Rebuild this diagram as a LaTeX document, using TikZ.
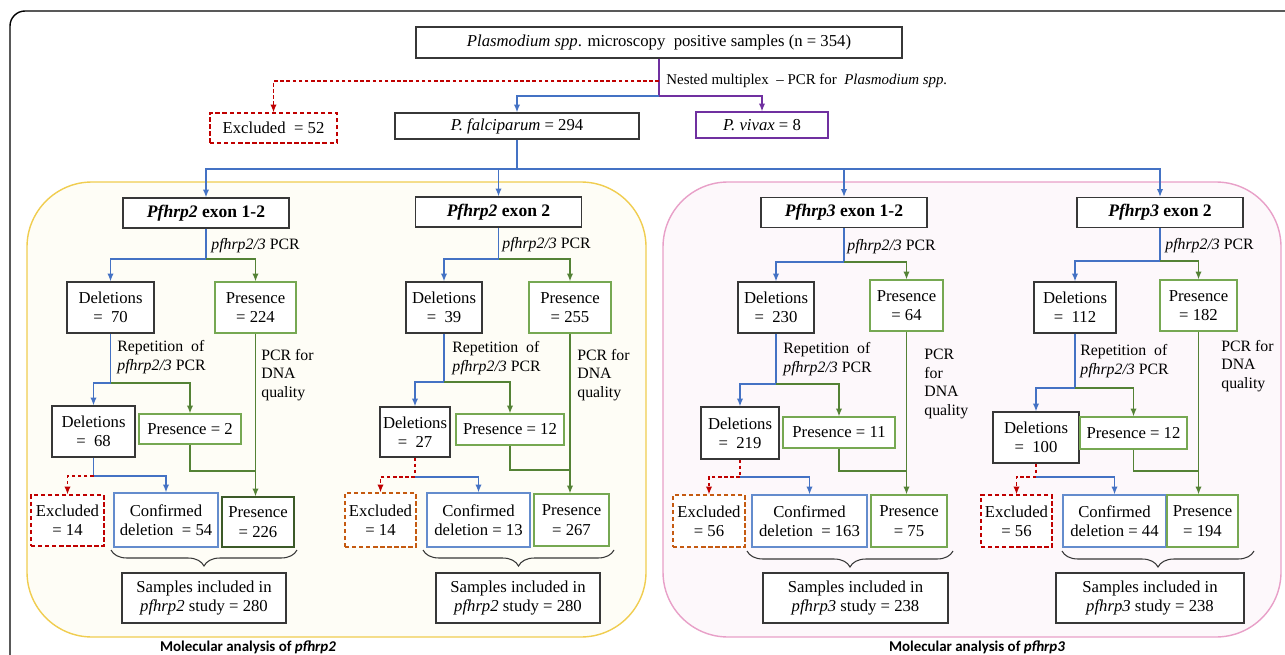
\documentclass[tikz,border=0pt]{standalone}
\usepackage{fontspec}
\setmainfont{Liberation Serif}
\newfontfamily\calibri{Carlito}
\usepackage{xcolor}
\usepackage{tikz}
\usetikzlibrary{arrows.meta, decorations.pathreplacing}

\definecolor{boxblack}{RGB}{55,55,55}
\definecolor{lineblue}{RGB}{68,114,196}
\definecolor{linegreen}{RGB}{84,130,53}
\definecolor{boxgreen}{RGB}{118,168,82}
\definecolor{darkgreen}{RGB}{60,90,40}
\definecolor{boxblue}{RGB}{100,140,205}
\definecolor{boxpurple}{RGB}{112,48,160}
\definecolor{exred}{RGB}{192,0,0}
\definecolor{exorange}{RGB}{197,90,17}
\definecolor{frameyellow}{RGB}{240,205,80}
\definecolor{fillyellow}{RGB}{254,253,246}
\definecolor{framepink}{RGB}{232,160,200}
\definecolor{fillpink}{RGB}{253,248,251}

\newdimen\upx \upx=0.2mm

\begin{document}
\begin{tikzpicture}[x=0.2mm, y=-0.2mm,
        box/.style={rectangle, draw=boxblack, fill=white, line width=0.65pt, align=center, inner sep=1pt, font=\rmfamily\fontsize{9.5}{11}\selectfont},
        gbox/.style={box, draw=boxgreen},
        dgbox/.style={box, draw=darkgreen},
        bbox/.style={box, draw=boxblue},
        pbox/.style={box, draw=boxpurple},
        rbox/.style={box, draw=exred, dash pattern=on 2.5pt off 1.5pt},
        obox/.style={box, draw=exorange, dash pattern=on 2.5pt off 1.5pt},
        exon/.style={box, minimum width=166\upx, minimum height=30\upx, font=\rmfamily\fontsize{10}{12}\selectfont\bfseries},
        lbl/.style={anchor=west, inner sep=0pt, align=left, font=\rmfamily\fontsize{9}{10.5}\selectfont},
        arr/.style={-{Latex[length=4.5pt,width=3.6pt]}},
        bline/.style={draw=lineblue, line width=0.75pt},
        gline/.style={draw=linegreen, line width=0.75pt},
        pline/.style={draw=boxpurple, line width=0.75pt},
        rline/.style={draw=exred, line width=0.75pt, dash pattern=on 2pt off 1.5pt},
        brc/.style={decorate, decoration={brace, mirror, amplitude=3.2mm}, line width=0.6pt, draw=boxblack},
        title/.style={anchor=base, inner sep=0pt, font=\calibri\fontsize{8.5}{10}\selectfont\bfseries}
    ]
    \useasboundingbox (0,0) rectangle (1285,655);

    % frames
    \draw[line width=0.8pt, rounded corners=3mm] (10,700) -- (10,11) -- (1300,11);
    \draw[draw=frameyellow, fill=fillyellow, line width=0.8pt, rounded corners=13mm] (27,182) rectangle (646,637);
    \draw[draw=framepink, fill=fillpink, line width=0.8pt, rounded corners=13mm] (663,182) rectangle (1281,637);

    % screening
    \node[box, minimum width=486\upx, minimum height=31\upx] (top) at (659,42.5) {\textit{Plasmodium spp}. microscopy \ positive samples (n = 354)};
    \node[rbox, minimum width=127\upx, minimum height=30\upx] (exc0) at (273.5,128) {Excluded \ = 52};
    \node[box, minimum width=244\upx, minimum height=26\upx] (fal) at (517,126) {\textit{P. falciparum} = 294};
    \node[pbox, minimum width=132\upx, minimum height=26\upx] (viv) at (762,125) {\textit{P. vivax} = 8};
    \node[lbl, font=\rmfamily\fontsize{8.5}{10}\selectfont] (nest) at (666,81) {Nested multiplex \ -- PCR for \ \textit{Plasmodium spp.}};
    \coordinate (n1) at (659,81);
    \coordinate (n2) at (659,96);
    \draw[pline, arr] (top.south) -- (n2) -| (viv.north);
    \draw[bline, arr] (n2) -| (fal.north);
    \draw[rline, arr] (n1) -| (exc0.north);

    \node[exon] (exA) at (206,213) {\textit{Pfhrp2} exon 1-2};
    \node[exon] (exB) at (498.5,212) {\textit{Pfhrp2} exon 2};
    \node[exon] (exC) at (844,212.5) {\textit{Pfhrp3} exon 1-2};
    \node[exon] (exD) at (1160,212.5) {\textit{Pfhrp3} exon 2};
    \coordinate (fb) at (517,169);
    \draw[bline] (fal.south) -- (fb);
    \foreach \e in {exA,exB,exC,exD}
        \draw[bline, arr] (fb) -| (\e.north);

    % pfhrp2 exon 1-2
    \coordinate (sA) at (206,259);
    \node[lbl] (pcrA) at (211,246) {\textit{pfhrp2/3} PCR};
    \node[box, minimum width=87\upx, minimum height=51\upx] (delA) at (110.5,307.5) {Deletions\\= \ 70};
    \node[gbox, minimum width=81\upx, minimum height=51\upx] (preA) at (255.5,307.5) {Presence\\= 224};
    \draw[bline] (exA.south) -- (sA);
    \draw[bline, arr] (sA) -| (delA.north);
    \draw[gline, arr] (sA) -| (preA.north);
    \coordinate (rA) at (delA.south |- 0,383);
    \node[lbl] (repA) at (117,357) {Repetition \ of\\\textit{pfhrp2/3} PCR};
    \node[box, minimum width=83\upx, minimum height=51\upx] (del2A) at (93.5,431.5) {Deletions\\= \ 68};
    \node[gbox, minimum width=102\upx, minimum height=30\upx] (pr2A) at (190,429) {Presence = 2};
    \draw[bline] (delA.south) -- (rA);
    \draw[bline, arr] (rA) -| (del2A.north);
    \draw[gline, arr] (rA) -| (pr2A.north);
    \node[rbox, minimum width=73\upx, minimum height=51\upx] (excA) at (67.5,520.5) {Excluded\\= 14};
    \node[bbox, minimum width=104\upx, minimum height=54\upx] (conA) at (166,520) {Confirmed\\deletion \ = 54};
    \node[dgbox, minimum width=72\upx, minimum height=50\upx] (pr3A) at (258,522) {Presence\\= 226};
    \node[lbl] (dnaA) at (261,375) {PCR for\\DNA\\quality};
    \draw[gline, arr] (preA.south) -- (preA.south |- pr3A.north);
    \draw[gline] (pr2A.south) |- (preA.south |- 0,471);
    \coordinate (xA) at (del2A.south |- 0,476);
    \draw[bline] (del2A.south) -- (xA);
    \draw[rline, arr] (xA) -| (excA.north);
    \draw[bline, arr] (xA) -| (conA.north);
    \draw[brc] (111,550) -- (297,550);
    \node[box, minimum width=164\upx, minimum height=50\upx] (smpA) at (204,598) {Samples included in\\\textit{pfhrp2} study = 280};

    % pfhrp2 exon 2
    \coordinate (sB) at (498.5,259);
    \node[lbl] (pcrB) at (502,245) {\textit{pfhrp2/3} PCR};
    \node[box, minimum width=76\upx, minimum height=51\upx] (delB) at (444,307.5) {Deletions\\= \ 39};
    \node[gbox, minimum width=82\upx, minimum height=51\upx] (preB) at (570,307.5) {Presence\\= 255};
    \draw[bline] (exB.south) -- (sB);
    \draw[bline, arr] (sB) -| (delB.north);
    \draw[gline, arr] (sB) -| (preB.north);
    \coordinate (rB) at (delB.south |- 0,382);
    \node[lbl] (repB) at (452,358) {Repetition \ of\\\textit{pfhrp2/3} PCR};
    \node[box, minimum width=70\upx, minimum height=50\upx] (del2B) at (415,432) {Deletions\\= \ 27};
    \node[gbox, minimum width=108\upx, minimum height=31\upx] (pr2B) at (510,429.5) {Presence = 12};
    \draw[bline] (delB.south) -- (rB);
    \draw[bline, arr] (rB) -| (del2B.north);
    \draw[gline, arr] (rB) -| (pr2B.north);
    \node[obox, minimum width=71\upx, minimum height=54\upx] (excB) at (380.5,520) {Excluded\\= 14};
    \node[bbox, minimum width=103\upx, minimum height=54\upx] (conB) at (478.5,520) {Confirmed\\deletion = 13};
    \node[gbox, minimum width=75\upx, minimum height=52\upx] (pr3B) at (571.5,520) {Presence\\= 267};
    \node[lbl] (dnaB) at (577,375) {PCR for\\DNA\\quality};
    \draw[gline, arr] (preB.south) -- (preB.south |- pr3B.north);
    \draw[gline] (pr2B.south) |- (preB.south |- 0,470);
    \coordinate (xB) at (del2B.south |- 0,477);
    \draw[rline] (del2B.south) -- (xB);
    \draw[rline, arr] (xB) -| (excB.north);
    \draw[bline, arr] (xB) -| (conB.north);
    \draw[brc] (423,550) -- (614,550);
    \node[box, minimum width=164\upx, minimum height=50\upx] (smpB) at (518,598) {Samples included in\\\textit{pfhrp2} study = 280};

    % pfhrp3 exon 1-2
    \coordinate (sC) at (844,262);
    \node[lbl] (pcrC) at (847,247) {\textit{pfhrp2/3} PCR};
    \node[box, minimum width=76\upx, minimum height=51\upx] (delC) at (776,307.5) {Deletions\\= \ 230};
    \node[gbox, minimum width=73\upx, minimum height=51\upx] (preC) at (906.5,305.5) {Presence\\= 64};
    \draw[bline] (exC.south) -- (sC);
    \draw[bline, arr] (sC) -| (delC.north);
    \draw[gline, arr] (sC) -| (preC.north);
    \coordinate (rC) at (delC.south |- 0,384);
    \node[lbl] (repC) at (783,359) {Repetition \ of\\\textit{pfhrp2/3} PCR};
    \node[box, minimum width=78\upx, minimum height=52\upx] (del2C) at (740,433) {Deletions\\= \ 219};
    \node[gbox, minimum width=112\upx, minimum height=31\upx] (pr2C) at (839,432.5) {Presence = 11};
    \draw[bline] (delC.south) -- (rC);
    \draw[bline, arr] (rC) -| (del2C.north);
    \draw[gline, arr] (rC) -| (pr2C.north);
    \node[obox, minimum width=72\upx, minimum height=52\upx] (excC) at (709,521) {Excluded\\= 56};
    \node[bbox, minimum width=115\upx, minimum height=52\upx] (conC) at (809.5,521) {Confirmed\\deletion \ = 163};
    \node[gbox, minimum width=76\upx, minimum height=52\upx] (pr3C) at (909,521) {Presence\\= 75};
    \node[lbl] (dnaC) at (924,384) {PCR\\for\\DNA\\quality};
    \draw[gline, arr] (preC.south) -- (preC.south |- pr3C.north);
    \draw[gline] (pr2C.south) |- (preC.south |- 0,471);
    \coordinate (xC) at (del2C.south |- 0,477);
    \draw[rline] (del2C.south) -- (xC);
    \draw[rline, arr] (xC) -| (excC.north);
    \draw[bline, arr] (xC) -| (conC.north);
    \draw[brc] (747,551) -- (953,551);
    \node[box, minimum width=185\upx, minimum height=50\upx] (smpC) at (855.5,598) {Samples included in\\\textit{pfhrp3} study = 238};

    % pfhrp3 exon 2
    \coordinate (sD) at (1160,261);
    \node[lbl] (pcrD) at (1165,246) {\textit{pfhrp2/3} PCR};
    \node[box, minimum width=82\upx, minimum height=51\upx] (delD) at (1075,307.5) {Deletions\\= \ 112};
    \node[gbox, minimum width=77\upx, minimum height=51\upx] (preD) at (1198.5,305.5) {Presence\\= 182};
    \draw[bline] (exD.south) -- (sD);
    \draw[bline, arr] (sD) -| (delD.north);
    \draw[gline, arr] (sD) -| (preD.north);
    \coordinate (rD) at (delD.south |- 0,388);
    \node[lbl] (repD) at (1080,361) {Repetition \ of\\\textit{pfhrp2/3} PCR};
    \node[box, minimum width=86\upx, minimum height=51\upx] (del2D) at (1036,437.5) {Deletions\\= \ 100};
    \node[gbox, minimum width=107\upx, minimum height=32\upx] (pr2D) at (1133.5,433) {Presence = 12};
    \draw[bline] (delD.south) -- (rD);
    \draw[bline, arr] (rD) -| (del2D.north);
    \draw[gline, arr] (rD) -| (pr2D.north);
    \node[rbox, minimum width=71\upx, minimum height=52\upx] (excD) at (1016.5,521) {Excluded\\= 56};
    \node[bbox, minimum width=103\upx, minimum height=52\upx] (conD) at (1114.5,521) {Confirmed\\deletion = 44};
    \node[gbox, minimum width=71\upx, minimum height=52\upx] (pr3D) at (1202.5,521) {Presence\\= 194};
    \node[lbl] (dnaD) at (1221,366) {PCR for\\DNA\\quality};
    \draw[gline, arr] (preD.south) -- (preD.south |- pr3D.north);
    \draw[gline] (pr2D.south) |- (preD.south |- 0,471);
    \coordinate (xD) at (del2D.south |- 0,477);
    \draw[rline] (del2D.south) -- (xD);
    \draw[rline, arr] (xD) -| (excD.north);
    \draw[bline, arr] (xD) -| (conD.north);
    \draw[brc] (1062,551) -- (1254,551);
    \node[box, minimum width=188\upx, minimum height=50\upx] (smpD) at (1150,598) {Samples included in\\\textit{pfhrp3} study = 238};

    \node[title] (ttlA) at (248,651) {Molecular analysis of \textit{pfhrp2}};
    \node[title] (ttlB) at (977,651) {Molecular analysis of \textit{pfhrp3}};
\end{tikzpicture}
\end{document}
